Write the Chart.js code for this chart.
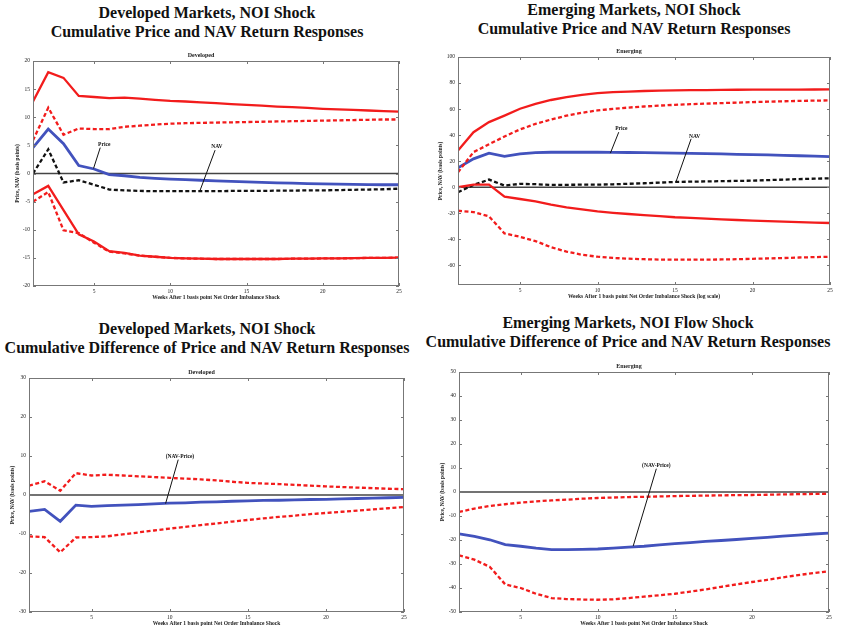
<!DOCTYPE html>
<html>
<head>
<meta charset="utf-8">
<script src="https://cdn.jsdelivr.net/npm/chart.js@4.4.1/dist/chart.umd.min.js"></script>
<style>
body { margin: 0; background: #fff; width: 841px; height: 631px; position: relative; overflow: hidden; font-family: 'Liberation Serif', serif; }
.hd { position: absolute; font-weight: bold; font-size: 16px; line-height: 19px; text-align: center; white-space: nowrap; color: #111; transform: translateX(-50%); }
canvas { position: absolute; }
</style>
</head>
<body>
<div class="hd" style="left:207px; top:3px">Developed Markets, NOI Shock<br>Cumulative Price and NAV Return Responses</div>
<div class="hd" style="left:634px; top:0px">Emerging Markets, NOI Shock<br>Cumulative Price and NAV Return Responses</div>
<div class="hd" style="left:207px; top:319px">Developed Markets, NOI Shock<br>Cumulative Difference of Price and NAV Return Responses</div>
<div class="hd" style="left:628px; top:313px">Emerging Markets, NOI Flow Shock<br>Cumulative Difference of Price and NAV Return Responses</div>
<canvas id="devMain"></canvas>
<canvas id="emMain"></canvas>
<canvas id="devDiff"></canvas>
<canvas id="emDiff"></canvas>
<script>
'use strict';

Chart.defaults.font.family = "'Liberation Serif', serif";

// weeks after the shock
var weeks = [1, 2, 3, 4, 5, 6, 7, 8, 9, 10, 11, 12, 13, 14, 15, 16, 17, 18, 19, 20, 21, 22, 23, 24, 25];
var xTicks = [5, 10, 15, 20, 25];

// Developed, price and NAV responses
var devTicks = [-20, -15, -10, -5, 0, 5, 10, 15, 20];
var devUpperSolid = [12.8, 18.0, 17.0, 13.8, 13.6, 13.4, 13.5, 13.3, 13.1, 12.9, 12.8, 12.65, 12.5, 12.35, 12.2, 12.05, 11.9, 11.8, 11.65, 11.5, 11.4, 11.3, 11.2, 11.1, 11.0];
var devUpperDash = [5.9, 11.7, 6.9, 8.0, 7.9, 7.9, 8.3, 8.5, 8.7, 8.85, 8.95, 9.0, 9.05, 9.1, 9.15, 9.2, 9.25, 9.3, 9.35, 9.4, 9.45, 9.5, 9.55, 9.6, 9.6];
var devPrice = [4.6, 7.9, 5.3, 1.4, 0.8, -0.2, -0.4, -0.7, -0.85, -1.0, -1.1, -1.2, -1.3, -1.4, -1.5, -1.58, -1.65, -1.72, -1.8, -1.85, -1.9, -1.93, -1.96, -2.0, -2.0];
var devNav = [0.0, 4.3, -1.6, -1.2, -2.0, -2.85, -3.0, -3.1, -3.15, -3.15, -3.15, -3.15, -3.15, -3.1, -3.1, -3.1, -3.05, -3.05, -3.0, -3.0, -2.95, -2.9, -2.85, -2.8, -2.7];
var devLowerSolid = [-3.7, -2.2, -6.5, -10.8, -12.1, -13.8, -14.1, -14.6, -14.8, -15.0, -15.1, -15.15, -15.2, -15.2, -15.2, -15.2, -15.2, -15.15, -15.15, -15.1, -15.1, -15.05, -15.0, -15.0, -14.95];
var devLowerDash = [-5.0, -3.3, -10.1, -10.6, -12.3, -13.9, -14.2, -14.6, -14.8, -15.0, -15.1, -15.15, -15.2, -15.2, -15.2, -15.2, -15.2, -15.15, -15.15, -15.1, -15.1, -15.05, -15.0, -15.0, -14.95];

// Emerging, price and NAV responses
var emTicks = [-60, -40, -20, 0, 20, 40, 60, 80, 100];
var emUpperSolid = [28.2, 42.3, 50.0, 55.0, 60.3, 64.0, 67.0, 69.2, 71.0, 72.3, 73.0, 73.5, 73.9, 74.2, 74.4, 74.55, 74.65, 74.75, 74.85, 74.9, 74.95, 75.0, 75.0, 75.05, 75.1];
var emUpperDash = [11.5, 27.0, 33.0, 39.0, 44.4, 48.7, 52.0, 55.0, 57.2, 59.0, 60.2, 61.2, 62.0, 62.7, 63.3, 63.8, 64.2, 64.6, 65.0, 65.4, 65.7, 66.0, 66.3, 66.5, 66.7];
var emPrice = [14.9, 21.8, 26.2, 23.8, 25.6, 26.6, 26.9, 26.9, 26.9, 26.9, 26.8, 26.7, 26.6, 26.4, 26.2, 26.0, 25.8, 25.6, 25.3, 25.1, 24.8, 24.5, 24.2, 23.9, 23.6];
var emNav = [-3.8, 1.8, 5.9, 1.3, 2.6, 2.4, 1.8, 1.9, 2.0, 2.0, 2.3, 2.7, 3.1, 3.6, 4.1, 4.3, 4.5, 4.7, 4.9, 5.1, 5.5, 5.9, 6.3, 6.6, 6.9];
var emLowerSolid = [0.0, 2.0, 2.0, -7.2, -9.0, -10.8, -13.3, -15.4, -17.0, -18.5, -19.6, -20.5, -21.3, -22.2, -23.0, -23.5, -24.0, -24.6, -25.1, -25.6, -26.0, -26.4, -26.8, -27.1, -27.4];
var emLowerDash = [-18.0, -19.0, -22.3, -35.4, -38.0, -41.3, -46.0, -49.4, -51.8, -53.3, -54.2, -54.8, -55.2, -55.5, -55.6, -55.6, -55.5, -55.4, -55.2, -54.9, -54.6, -54.3, -53.9, -53.6, -53.3];

// Developed, NAV minus price
var devDiffTicks = [-30, -20, -10, 0, 10, 20, 30];
var devDiffUpper = [2.4, 3.5, 1.1, 5.6, 5.0, 5.2, 5.0, 4.8, 4.6, 4.4, 4.2, 4.0, 3.75, 3.4, 3.1, 2.95, 2.8, 2.6, 2.4, 2.2, 2.05, 1.9, 1.75, 1.6, 1.5];
var devDiff = [-4.2, -3.7, -6.75, -2.6, -2.9, -2.7, -2.6, -2.45, -2.3, -2.1, -2.0, -1.85, -1.75, -1.6, -1.5, -1.4, -1.35, -1.25, -1.15, -1.1, -1.0, -0.9, -0.8, -0.7, -0.6];
var devDiffLower = [-10.6, -10.8, -14.7, -10.9, -10.8, -10.6, -10.1, -9.6, -9.1, -8.6, -8.2, -7.7, -7.3, -6.8, -6.4, -6.0, -5.6, -5.3, -4.9, -4.6, -4.3, -4.0, -3.7, -3.4, -3.1];

// Emerging, NAV minus price
var emDiffTicks = [-50, -40, -30, -20, -10, 0, 10, 20, 30, 40, 50];
var emDiffUpper = [-8.3, -6.9, -5.8, -5.1, -4.4, -3.9, -3.5, -3.2, -2.8, -2.5, -2.3, -2.1, -2.0, -1.85, -1.7, -1.6, -1.5, -1.4, -1.3, -1.25, -1.15, -1.0, -0.9, -0.8, -0.7];
var emDiff = [-17.4, -18.5, -19.9, -21.9, -22.6, -23.4, -24.0, -24.0, -23.9, -23.75, -23.4, -23.0, -22.6, -22.0, -21.5, -21.1, -20.6, -20.2, -19.8, -19.3, -18.9, -18.4, -18.0, -17.5, -17.1];
var emDiffLower = [-26.4, -28.2, -31.2, -38.5, -40.0, -42.4, -44.2, -44.6, -44.8, -44.9, -44.7, -44.2, -43.6, -43.0, -42.4, -41.5, -40.6, -39.5, -38.5, -37.5, -36.6, -35.6, -34.6, -33.8, -33.0];

// labels with leader lines: text, text x, text y, line from x/y, line to x/y (data units)
var devNotes = [['Price', 5.67, 5.1, 5.41, 4.6, 4.97, 0.9], ['NAV', 13.05, 4.75, 12.94, 4.15, 11.96, -2.97]];
var emNotes = [['Price', 11.54, 45.1, 11.37, 42.3, 10.83, 26.2], ['NAV', 16.26, 39.0, 16.04, 37.2, 15.07, 4.4]];
var devDiffNotes = [['(NAV-Price)', 10.66, 9.9, 10.55, 9.06, 9.74, -2.2]];
var emDiffNotes = [['(NAV-Price)', 13.8, 11.1, 13.8, 9.7, 12.3, -22.5]];

var red = '#f21c1c';
var blue = '#4252bd';
var black = '#111111';

function series(vals, color, dashed, width) {
    return {
        data: weeks.map(function (w, i) { return {x: w, y: vals[i]}; }),
        borderColor: color,
        borderWidth: width,
        borderDash: dashed ? [4, 2.5] : [],
        pointRadius: 0,
        fill: false,
        tension: 0
    };
}

function framePlugin(notes) {
    return {
        id: 'frame',
        beforeDatasetsDraw: function (chart) {
            var a = chart.chartArea, ctx = chart.ctx;
            var y0 = chart.scales.y.getPixelForValue(0);
            ctx.save();
            ctx.strokeStyle = '#444';
            ctx.lineWidth = 1.5;
            ctx.beginPath();
            ctx.moveTo(a.left, y0);
            ctx.lineTo(a.right, y0);
            ctx.stroke();
            ctx.restore();
        },
        afterDraw: function (chart) {
            var a = chart.chartArea, ctx = chart.ctx;
            var sx = chart.scales.x, sy = chart.scales.y;
            ctx.save();
            ctx.strokeStyle = '#777';
            ctx.lineWidth = 1;
            ctx.strokeRect(a.left + 0.5, a.top + 0.5, a.right - a.left - 1, a.bottom - a.top - 1);
            ctx.beginPath();
            sx.ticks.forEach(function (t) {
                var px = Math.round(sx.getPixelForValue(t.value)) + 0.5;
                ctx.moveTo(px, a.bottom); ctx.lineTo(px, a.bottom - 3);
                ctx.moveTo(px, a.top); ctx.lineTo(px, a.top + 3);
            });
            sy.ticks.forEach(function (t) {
                var py = Math.round(sy.getPixelForValue(t.value)) + 0.5;
                ctx.moveTo(a.left, py); ctx.lineTo(a.left + 3, py);
                ctx.moveTo(a.right, py); ctx.lineTo(a.right - 3, py);
            });
            ctx.stroke();
            ctx.strokeStyle = '#111';
            ctx.fillStyle = '#111';
            ctx.font = 'bold 5.5px "Liberation Serif"';
            ctx.textAlign = 'center';
            ctx.textBaseline = 'middle';
            notes.forEach(function (n) {
                ctx.fillText(n[0], sx.getPixelForValue(n[1]), sy.getPixelForValue(n[2]));
                ctx.beginPath();
                ctx.moveTo(sx.getPixelForValue(n[3]), sy.getPixelForValue(n[4]));
                ctx.lineTo(sx.getPixelForValue(n[5]), sy.getPixelForValue(n[6]));
                ctx.stroke();
            });
            ctx.restore();
        }
    };
}

var yW = 30, topH = 12, xH = 20, padR = 10;

function makeChart(id, box, cfg) {
    var cv = document.getElementById(id);
    cv.width = box.r - box.l + yW + padR;
    cv.height = box.b - box.t + topH + xH;
    cv.style.left = (box.l - yW) + 'px';
    cv.style.top = (box.t - topH) + 'px';
    return new Chart(cv, {
        type: 'line',
        data: {datasets: cfg.sets},
        options: {
            responsive: false,
            animation: false,
            layout: {padding: {left: 0, right: padR, top: 0, bottom: 0}},
            plugins: {
                legend: {display: false},
                tooltip: {enabled: false},
                title: {
                    display: true,
                    text: cfg.subtitle,
                    color: '#222',
                    font: {size: 6, weight: 'bold', lineHeight: 1},
                    padding: {top: 3, bottom: 3}
                }
            },
            scales: {
                x: {
                    type: 'linear',
                    min: 1,
                    max: 25,
                    afterBuildTicks: function (s) { s.ticks = xTicks.map(function (v) { return {value: v}; }); },
                    afterFit: function (s) { s.height = xH; },
                    grid: {display: false, drawTicks: false},
                    border: {display: false},
                    ticks: {color: '#222', font: {size: 5.5}, padding: 2, maxRotation: 0},
                    title: {
                        display: true,
                        text: cfg.xTitle,
                        color: '#222',
                        font: {size: 5.5, weight: 'bold', lineHeight: 1},
                        padding: {top: 0, bottom: 6}
                    }
                },
                y: {
                    type: 'linear',
                    min: cfg.yMin,
                    max: cfg.yMax,
                    afterBuildTicks: function (s) { s.ticks = cfg.yTicks.map(function (v) { return {value: v}; }); },
                    afterFit: function (s) { s.width = yW; },
                    grid: {display: false, drawTicks: false},
                    border: {display: false},
                    ticks: {color: '#222', font: {size: 5.5}, padding: 3},
                    title: {
                        display: true,
                        text: 'Price, NAV (basis points)',
                        color: '#222',
                        font: {size: 5.5, weight: 'bold', lineHeight: 1},
                        padding: {top: cfg.yPad, bottom: 0}
                    }
                }
            }
        },
        plugins: [framePlugin(cfg.notes)]
    });
}

var xLabel = 'Weeks After 1 basis point Net Order Imbalance Shock';

makeChart('devMain', {l: 33, t: 61, r: 399, b: 286}, {
    subtitle: 'Developed', xTitle: xLabel, yTicks: devTicks, yMin: -20, yMax: 20, yPad: 12, notes: devNotes,
    sets: [
        series(devUpperSolid, red, false, 2.3),
        series(devUpperDash, red, true, 2.3),
        series(devLowerSolid, red, false, 2.3),
        series(devLowerDash, red, true, 2.3),
        series(devNav, black, true, 2.3),
        series(devPrice, blue, false, 2.8)
    ]
});

makeChart('emMain', {l: 458, t: 57, r: 830, b: 285}, {
    subtitle: 'Emerging', xTitle: xLabel + ' (log scale)', yTicks: emTicks, yMin: -75, yMax: 100, yPad: 9.5, notes: emNotes,
    sets: [
        series(emUpperSolid, red, false, 2.3),
        series(emUpperDash, red, true, 2.3),
        series(emLowerSolid, red, false, 2.3),
        series(emLowerDash, red, true, 2.3),
        series(emNav, black, true, 2.3),
        series(emPrice, blue, false, 2.8)
    ]
});

makeChart('devDiff', {l: 29, t: 378, r: 404, b: 612}, {
    subtitle: 'Developed', xTitle: xLabel, yTicks: devDiffTicks, yMin: -30, yMax: 30, yPad: 10.5, notes: devDiffNotes,
    sets: [
        series(devDiffUpper, red, true, 2.3),
        series(devDiffLower, red, true, 2.3),
        series(devDiff, blue, false, 2.8)
    ]
});

makeChart('emDiff', {l: 459, t: 372, r: 829, b: 612}, {
    subtitle: 'Emerging', xTitle: xLabel, yTicks: emDiffTicks, yMin: -50, yMax: 50, yPad: 10.5, notes: emDiffNotes,
    sets: [
        series(emDiffUpper, red, true, 2.3),
        series(emDiffLower, red, true, 2.3),
        series(emDiff, blue, false, 2.8)
    ]
});
</script>
</body>
</html>
